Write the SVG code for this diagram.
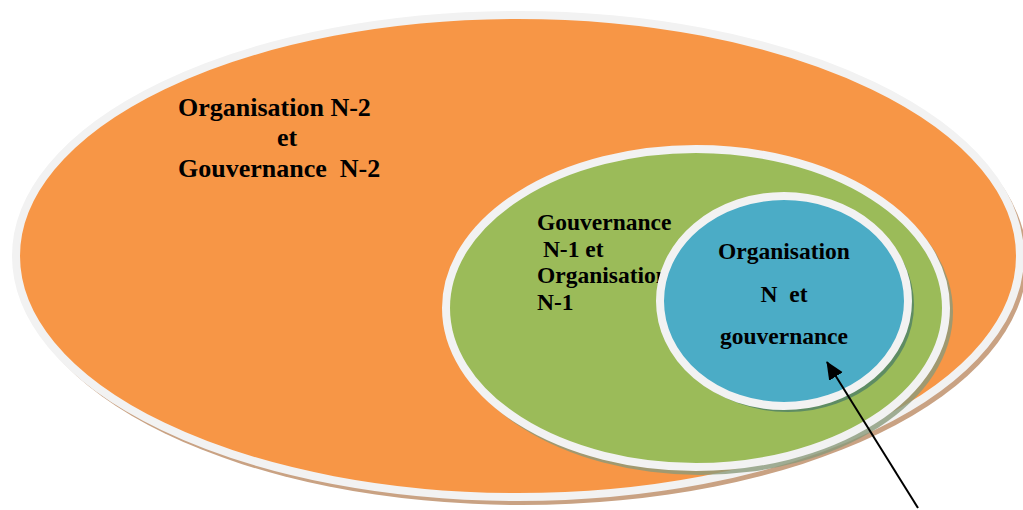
<svg xmlns="http://www.w3.org/2000/svg" width="1023" height="510" viewBox="0 0 1023 510">
<style>
.lbl{font-family:"Liberation Serif","Times New Roman",serif;font-weight:bold;fill:#000}
.rim{stroke:#F2F2F2;stroke-width:8}
</style>
<defs>
<marker id="ah" markerWidth="18" markerHeight="18" refX="17" refY="8" orient="auto" markerUnits="userSpaceOnUse" viewBox="0 0 18 16">
<path d="M0,0 L18,8 L0,16 z" fill="#000"/>
</marker>
</defs>
<rect width="1023" height="510" fill="#fff"/>
<g id="outer">
<ellipse cx="522" cy="261" rx="505" ry="244" fill="#C9A283"/>
<ellipse cx="518" cy="256" rx="502" ry="241" fill="#F79646" class="rim"/>
<text class="lbl" font-size="26" x="178" y="116">Organisation N-2</text>
<text class="lbl" font-size="26" x="287" y="146" text-anchor="middle">et</text>
<text class="lbl" font-size="26" x="178" y="177" xml:space="preserve">Gouvernance  N-2</text>
</g>
<g id="middle">
<ellipse cx="700" cy="312" rx="253" ry="163" fill="#8A9A7A" opacity="0.8"/>
<ellipse cx="696" cy="308" rx="250" ry="159" fill="#9BBB59" class="rim"/>
<text class="lbl" font-size="23.5" x="537" y="230">Gouvernance</text>
<text class="lbl" font-size="23.5" x="537" y="257" xml:space="preserve"> N-1 et</text>
<text class="lbl" font-size="23.5" x="537" y="283">Organisation</text>
<text class="lbl" font-size="23.5" x="537" y="310">N-1</text>
</g>
<g id="inner">
<ellipse cx="788" cy="305" rx="126" ry="107" fill="#5E8C63"/>
<ellipse cx="784" cy="301" rx="124" ry="105" fill="#4BACC6" class="rim"/>
<text class="lbl" font-size="23.5" x="784" y="259" text-anchor="middle">Organisation</text>
<text class="lbl" font-size="23.5" x="784" y="302" text-anchor="middle" xml:space="preserve">N  et</text>
<text class="lbl" font-size="23.5" x="784" y="344" text-anchor="middle">gouvernance</text>
</g>
<g id="connectors">
<line x1="918" y1="508" x2="827" y2="362" stroke="#000" stroke-width="2" marker-end="url(#ah)"/>
</g>
</svg>
